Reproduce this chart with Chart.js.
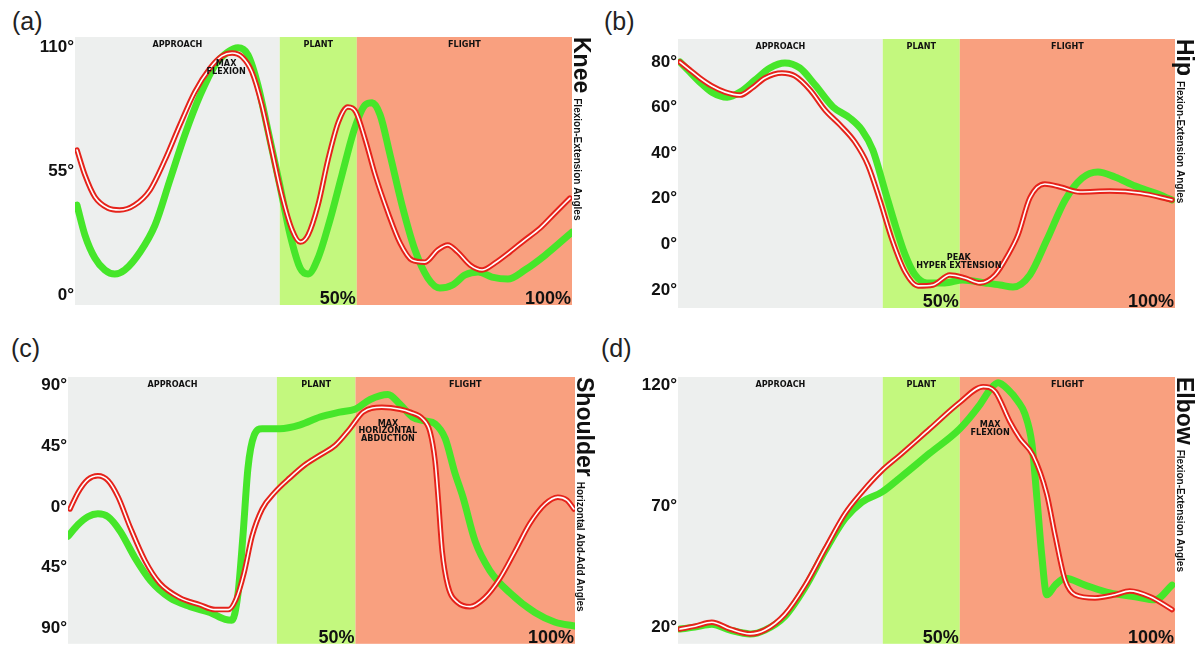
<!DOCTYPE html>
<html>
<head>
<meta charset="utf-8">
<script src="https://cdn.jsdelivr.net/npm/chart.js@4.4.0/dist/chart.umd.min.js"></script>
<style>
  body { margin: 0; background: #fff; width: 1196px; height: 655px; position: relative; overflow: hidden; font-family: 'Liberation Sans', Arial, sans-serif; }
  .panel { position: absolute; }
  .tag { position: absolute; font-size: 25px; color: #222; line-height: 1; }
</style>
</head>
<body>
<div class="tag" style="left:12px;top:9px">(a)</div>
<div class="tag" style="left:604px;top:9px">(b)</div>
<div class="tag" style="left:11px;top:336px">(c)</div>
<div class="tag" style="left:601px;top:336px">(d)</div>

<div class="panel" style="left:0;top:0"><canvas id="kneeChart" width="598" height="327"></canvas></div>
<div class="panel" style="left:598px;top:0"><canvas id="hipChart" width="598" height="327"></canvas></div>
<div class="panel" style="left:0;top:327px"><canvas id="shoulderChart" width="598" height="328"></canvas></div>
<div class="panel" style="left:598px;top:327px"><canvas id="elbowChart" width="598" height="328"></canvas></div>

<script>
// phases of the jump, in % of the movement
const phaseNames = ['APPROACH', 'PLANT', 'FLIGHT'];
const phaseEdges = [0, 41.2, 56.7, 100];
const phaseMarks = ['', '50%', '100%'];

// (a) knee
const kneeTicks = [0, 55, 110];
const kneeRedPct = [0.4, 2, 4, 6.6, 9, 12, 15.1, 18.1, 21.1, 24.1, 27.2, 29.6, 31.6, 33.6, 35.6, 37.6, 39.6, 41.6, 43.7, 45.3, 46.9, 48.9, 50.9, 53, 54.9, 56.5, 58.4, 60.4, 63, 65.4, 67.8, 70.4, 73, 75, 77, 79.5, 81.9, 84.5, 87.5, 90.5, 93.6, 96.6, 99.6];
const kneeRedDeg = [64.3, 53.2, 43.5, 38.6, 37.7, 39.9, 46.6, 59.9, 75.4, 90, 100.7, 106, 107.3, 105.6, 98.9, 84.3, 64.3, 44.4, 28.8, 23.5, 26.6, 39.9, 59.9, 76.7, 83.4, 81.2, 68.8, 53.2, 36.4, 23.1, 15.5, 14.6, 20, 22.2, 19.1, 13.3, 11.1, 14.2, 19.1, 24.4, 29.7, 36.4, 43];
const kneeGreenPct = [0.4, 2, 4, 6, 8, 10, 13.1, 16.1, 19.1, 22.1, 25.2, 28.2, 30.8, 32.8, 34.8, 36.8, 38.8, 41.2, 43.3, 45.3, 46.9, 48.9, 51.3, 53.7, 56.3, 58.4, 59.8, 61.4, 63.4, 65.8, 68.4, 71, 73.4, 75.9, 78.5, 81.1, 83.9, 87.1, 90.5, 94.6, 100];
const kneeGreenDeg = [39.9, 26.6, 16.4, 11.1, 9.3, 11.1, 19.1, 31, 51, 71, 88.7, 102, 107.8, 109.6, 106.5, 93.1, 73.2, 48.8, 26.6, 12, 9.3, 16.4, 33.3, 53.2, 74.1, 84.3, 85.2, 79.8, 62.1, 39.9, 20, 7.5, 3.1, 4.4, 8.9, 10.2, 8, 7.1, 11.1, 17.7, 27.9];

// (b) hip
const hipTicks = [-20, 0, 20, 40, 60, 80];
const hipRedPct = [0.4, 2.4, 4.4, 6.8, 9.5, 12.5, 14.9, 17.5, 20.9, 23.5, 26.6, 29.6, 32.6, 35.6, 38.2, 40.6, 43.1, 45.7, 48.3, 51.3, 54.7, 57.7, 60.8, 63.8, 66.4, 68.4, 70.8, 73.8, 76.9, 80.9, 86.9, 93, 99.4];
const hipRedDeg = [80, 76.5, 73, 69.5, 66.8, 65.5, 68.6, 73, 75.2, 73.9, 67.7, 58.9, 52.4, 44.9, 34.8, 19.5, 1.9, -12.1, -18.2, -17.8, -13.4, -14.7, -16.9, -13.4, -4.6, 4.1, 20.4, 26.5, 25.2, 23, 23.4, 22.5, 19.5];
const hipGreenPct = [0.4, 2.4, 4.4, 6.8, 9.9, 12.5, 15.5, 18.5, 21.5, 24.5, 27.6, 31.2, 34.6, 37, 39.2, 41.6, 43.7, 45.7, 47.7, 50.1, 53.7, 57.3, 61.8, 64.8, 67.4, 70.8, 74.2, 77.9, 81.3, 84.5, 87.9, 92, 96, 99.4];
const hipGreenDeg = [80, 75.6, 71.2, 66.8, 64.6, 66.8, 72.1, 77.4, 79.6, 77.4, 69.9, 60.3, 55.4, 50.2, 41.4, 23.9, 8.5, -4.6, -13.4, -16.9, -16.9, -15.6, -16.9, -17.8, -18.7, -13.4, 1.9, 19.5, 29.1, 31.8, 29.6, 25.6, 22.5, 19.5];

// (c) shoulder
const shoulderTicks = [-90, -45, 0, 45, 90];
const shoulderRedPct = [0.4, 2, 3.9, 5.9, 7.9, 9.9, 12.2, 15.2, 18.1, 22.1, 26, 29, 31.6, 33.1, 34.7, 36.3, 38.3, 40.8, 43.8, 46.7, 49.7, 52.7, 55.6, 58.2, 61.9, 65.5, 67.5, 70, 71.4, 72.4, 73, 73.8, 74.9, 76.9, 79.3, 82.2, 85.2, 88.2, 91.1, 94.1, 96.6, 98.4, 99.8];
const shoulderRedDeg = [-1.5, 10.9, 20.3, 23.2, 19.6, 7.3, -14.5, -39.9, -56.6, -67.5, -72.6, -76.2, -76.2, -68.9, -49.3, -21.8, -1.5, 10.9, 21.8, 31.2, 38.5, 45.7, 58.1, 70.4, 74, 72.6, 70.4, 65.3, 55.9, 34.1, 7.3, -32.7, -58.1, -71.1, -74, -67.5, -53, -32.7, -12.3, 2.2, 7.3, 5.1, -1.5];
const shoulderGreenPct = [0, 2, 3.9, 5.9, 7.9, 10.3, 13.2, 16.2, 20.1, 24.1, 28, 31, 32.3, 33.5, 34.5, 35.5, 36.7, 38.3, 41.8, 45.8, 49.7, 53.6, 56.6, 59.6, 63.1, 65.5, 67.9, 70.4, 72.4, 74.4, 76.3, 77.9, 80.3, 83.2, 87.2, 92.1, 96.1, 100];
const shoulderGreenDeg = [-21.8, -13.1, -7.3, -5.1, -7.3, -18.1, -37.7, -54.4, -67.5, -74, -78.4, -83.5, -84.2, -65.3, -21.8, 29, 53, 58.1, 58.1, 61, 66.8, 70.4, 72.6, 79.8, 83.5, 76.2, 66.8, 63.9, 61.7, 50.8, 25.4, 7.3, -25.4, -47.2, -63.9, -78.4, -85.6, -88.5];

// (d) elbow
const elbowTicks = [20, 70, 120];
const elbowRedPct = [0.4, 3.4, 6.8, 10.5, 14.5, 17.5, 21.5, 25.6, 29.6, 33.6, 37, 41, 44.7, 50.7, 56.7, 61.4, 63.8, 66.8, 68.8, 71.4, 74.2, 75.9, 77.9, 79.9, 83.9, 87.9, 90.9, 95, 99.4];
const elbowRedDeg = [19.2, 20.4, 22, 19.2, 17.2, 18.8, 25.3, 37.4, 52.4, 67, 75.9, 84.8, 91.3, 102.2, 113.1, 119.6, 117.6, 105, 98.1, 91.3, 75.1, 57.7, 39.4, 33.4, 32.1, 33.4, 35, 32.6, 27.3];
const elbowGreenPct = [0.4, 3.4, 6.8, 10.5, 14.5, 17.5, 21.5, 25.6, 29.6, 33.6, 37, 41, 44.7, 50.7, 56.7, 60.8, 62.8, 64.4, 66.4, 68.4, 69.8, 71.2, 72.2, 73.2, 74.2, 75.9, 77.9, 81.9, 86.9, 92, 96, 99.4];
const elbowGreenDeg = [19.2, 20, 21.2, 18.8, 17.2, 18.8, 24.5, 36.6, 51.6, 64.9, 71.8, 75.9, 81.9, 92.1, 102.2, 112.3, 118.4, 121.2, 118.4, 113.5, 108.3, 96.1, 73.8, 49.6, 33.4, 37.4, 40.2, 37.4, 34.2, 32.6, 31.3, 37.4];

const phaseColors = ['#EDEFEE', '#C3F87E', '#F9A07F'];
const RED = '#E5231B';
const GREEN = '#46E62A';
const INK = '#111';

const toPoints = (xs, ys) => xs.map((x, i) => ({ x, y: ys[i] }));

// backgrounds, phase names, % marks, callouts and the rotated side title
const phasePlugin = {
    id: 'phases',
    beforeDatasetsDraw(chart) {
        const { ctx, chartArea: a, scales: { x } } = chart;
        ctx.save();
        for (let i = 0; i < phaseNames.length; i++) {
            const x0 = x.getPixelForValue(phaseEdges[i]);
            const x1 = x.getPixelForValue(phaseEdges[i + 1]);
            ctx.fillStyle = phaseColors[i];
            ctx.fillRect(x0, a.top, x1 - x0, a.bottom - a.top);
            ctx.fillStyle = INK;
            ctx.font = 'bold 9px "DejaVu Sans Condensed", "DejaVu Sans", sans-serif';
            ctx.textAlign = 'center';
            ctx.textBaseline = 'top';
            ctx.fillText(phaseNames[i], (x0 + x1) / 2, a.top + 3);
        }
        ctx.restore();
    },
    afterDatasetsDraw(chart, args, opts) {
        const { ctx, chartArea: a, scales: { x, y } } = chart;
        ctx.save();
        ctx.fillStyle = INK;
        // 50% / 100%
        ctx.font = 'bold 18px "Liberation Sans", Arial, sans-serif';
        ctx.textAlign = 'right';
        ctx.textBaseline = 'alphabetic';
        phaseMarks.forEach((m, i) => {
            if (m) ctx.fillText(m, x.getPixelForValue(phaseEdges[i + 1]) - 1, a.bottom - 1);
        });
        // callout
        ctx.font = 'bold 9px "DejaVu Sans Condensed", "DejaVu Sans", sans-serif';
        ctx.textAlign = 'center';
        ctx.textBaseline = 'middle';
        const cx = x.getPixelForValue(opts.note.x);
        const cy = y.getPixelForValue(opts.note.y);
        const lines = opts.note.lines;
        lines.forEach((t, i) => ctx.fillText(t, cx, cy + (i - (lines.length - 1) / 2) * 7.5));
        // side title, reading downwards
        ctx.translate(a.right + 2, a.top);
        ctx.rotate(Math.PI / 2);
        ctx.textAlign = 'left';
        ctx.textBaseline = 'alphabetic';
        ctx.font = 'bold 23px "Liberation Sans", Arial, sans-serif';
        ctx.fillText(opts.joint, 0, 0);
        const w = ctx.measureText(opts.joint).width;
        ctx.font = 'bold 10px "Liberation Sans", Arial, sans-serif';
        ctx.fillText(opts.subtitle, w + 5, 0);
        ctx.restore();
    }
};

function makeChart(id, cfg) {
    const ctx = document.getElementById(id).getContext('2d');
    return new Chart(ctx, {
        type: 'line',
        data: {
            datasets: [
                { data: toPoints(cfg.redPct, cfg.redDeg), borderColor: '#fff', borderWidth: 1.6 },
                { data: toPoints(cfg.redPct, cfg.redDeg), borderColor: RED, borderWidth: 5.5 },
                { data: toPoints(cfg.greenPct, cfg.greenDeg), borderColor: GREEN, borderWidth: 7 }
            ]
        },
        options: {
            responsive: false,
            animation: false,
            layout: { padding: cfg.padding },
            elements: {
                point: { radius: 0 },
                line: { cubicInterpolationMode: 'monotone', borderCapStyle: 'round', borderJoinStyle: 'round', fill: false }
            },
            scales: {
                x: { type: 'linear', min: 0, max: 100, display: false },
                y: {
                    min: cfg.yMin,
                    max: cfg.yMax,
                    afterBuildTicks: s => { s.ticks = cfg.ticks.map(v => ({ value: v })); },
                    afterFit: s => { s.width = cfg.yWidth; },
                    grid: { display: false, drawTicks: false },
                    border: { display: false },
                    ticks: {
                        padding: 1,
                        color: INK,
                        font: { family: 'Liberation Sans', weight: 'bold', size: 17 },
                        callback: v => Math.abs(v) + '°'
                    }
                }
            },
            plugins: {
                legend: { display: false },
                tooltip: { enabled: false },
                phases: { joint: cfg.joint, subtitle: cfg.subtitle, note: cfg.note }
            }
        },
        plugins: [phasePlugin]
    });
}

makeChart('kneeChart', {
    redPct: kneeRedPct, redDeg: kneeRedDeg, greenPct: kneeGreenPct, greenDeg: kneeGreenDeg,
    ticks: kneeTicks, yMin: -4.4, yMax: 114.4, yWidth: 75,
    padding: { left: 0, top: 37, right: 26, bottom: 22 },
    joint: 'Knee', subtitle: 'Flexion-Extension Angles',
    note: { x: 30.4, y: 100.7, lines: ['MAX', 'FLEXION'] }
});

makeChart('hipChart', {
    redPct: hipRedPct, redDeg: hipRedDeg, greenPct: hipGreenPct, greenDeg: hipGreenDeg,
    ticks: hipTicks, yMin: -27.9, yMax: 90.1, yWidth: 80,
    padding: { left: 0, top: 39, right: 21, bottom: 19 },
    joint: 'Hip', subtitle: 'Flexion-Extension Angles',
    note: { x: 56.5, y: -7.5, lines: ['PEAK', 'HYPER EXTENSION'] }
});

makeChart('shoulderChart', {
    redPct: shoulderRedPct, redDeg: shoulderRedDeg, greenPct: shoulderGreenPct, greenDeg: shoulderGreenDeg,
    ticks: shoulderTicks, yMin: -101.6, yMax: 96.5, yWidth: 68,
    padding: { left: 0, top: 50, right: 23, bottom: 5 },
    joint: 'Shoulder', subtitle: 'Horizontal Abd-Add Angles',
    note: { x: 63.1, y: 56.6, lines: ['MAX', 'HORIZONTAL', 'ABDUCTION'] }
});

makeChart('elbowChart', {
    redPct: elbowRedPct, redDeg: elbowRedDeg, greenPct: elbowGreenPct, greenDeg: elbowGreenDeg,
    ticks: elbowTicks, yMin: 13.1, yMax: 123.6, yWidth: 80,
    padding: { left: 0, top: 50, right: 21, bottom: 5 },
    joint: 'Elbow', subtitle: 'Flexion-Extension Angles',
    note: { x: 62.8, y: 102.2, lines: ['MAX', 'FLEXION'] }
});
</script>
</body>
</html>
